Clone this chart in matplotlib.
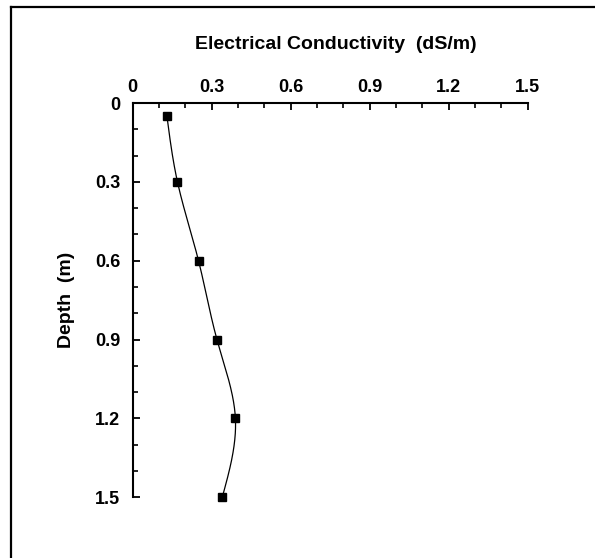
import numpy as np
import matplotlib
matplotlib.use("Agg")
from matplotlib import pyplot as plt
from matplotlib.lines import Line2D
from matplotlib.ticker import MultipleLocator

plt.rcParams['font.family'] = ['Liberation Sans', 'DejaVu Sans']
plt.rcParams['font.weight'] = 'bold'
plt.rcParams['axes.labelweight'] = 'bold'

# data
depth = [0.05, 0.3, 0.6, 0.9, 1.2, 1.5]
ec = [0.13, 0.17, 0.25, 0.32, 0.39, 0.34]


def natural_spline(x, y, xs):
    # plain natural cubic spline, only used to draw the smooth line through the points
    x = np.asarray(x, float)
    y = np.asarray(y, float)
    n = len(x)
    h = np.diff(x)
    A = np.zeros((n, n))
    b = np.zeros(n)
    A[0, 0] = 1
    A[-1, -1] = 1
    for i in range(1, n - 1):
        A[i, i - 1] = h[i - 1]
        A[i, i] = 2 * (h[i - 1] + h[i])
        A[i, i + 1] = h[i]
        b[i] = 3 * ((y[i + 1] - y[i]) / h[i] - (y[i] - y[i - 1]) / h[i - 1])
    c = np.linalg.solve(A, b)
    out = np.empty_like(xs)
    for k, v in enumerate(xs):
        i = min(max(np.searchsorted(x, v) - 1, 0), n - 2)
        t = v - x[i]
        bb = (y[i + 1] - y[i]) / h[i] - h[i] * (2 * c[i] + c[i + 1]) / 3
        d = (c[i + 1] - c[i]) / (3 * h[i])
        out[k] = y[i] + bb * t + c[i] * t ** 2 + d * t ** 3
    return out


fig = plt.figure(figsize=(5.95, 5.58), dpi=100)
ax = fig.add_axes([0.223, 0.1088, 0.664, 0.7066])

dd = np.linspace(depth[0], depth[-1], 300)
ax.plot(natural_spline(depth, ec, dd), dd, color='black', lw=0.9)
ax.plot(ec, depth, 's', color='black', ms=6, mec='black', clip_on=False)

ax.set_xlim(0, 1.5)
ax.set_ylim(1.5, 0)
ax.xaxis.set_major_locator(MultipleLocator(0.3))
ax.xaxis.set_minor_locator(MultipleLocator(0.1))
ax.yaxis.set_major_locator(MultipleLocator(0.3))
ax.yaxis.set_minor_locator(MultipleLocator(0.1))
fmt = lambda v, p: '0' if abs(v) < 1e-9 else '%.1f' % v
ax.xaxis.set_major_formatter(fmt)
ax.yaxis.set_major_formatter(fmt)

ax.xaxis.tick_top()
ax.xaxis.set_label_position('top')
for s in ['right', 'bottom']:
    ax.spines[s].set_visible(False)
for s in ['top', 'left']:
    ax.spines[s].set_linewidth(1.5)
ax.tick_params(which='major', direction='in', length=5, width=1.3, labelsize=13, pad=5)
ax.tick_params(which='minor', direction='in', length=3.5, width=1.2)
ax.tick_params(axis='y', pad=9)

ax.set_xlabel('Electrical Conductivity  (dS/m)', fontsize=14, labelpad=22)
ax.xaxis.label.set_x(0.515)
ax.set_ylabel('Depth  (m)', fontsize=14, labelpad=14)

# frame left from the original page
fig.add_artist(Line2D([11 / 595, 1], [1 - 7 / 558, 1 - 7 / 558], color='black', lw=1.6))
fig.add_artist(Line2D([11 / 595, 11 / 595], [0, 1 - 7 / 558], color='black', lw=1.6))

fig.savefig('out.png', dpi=100)
